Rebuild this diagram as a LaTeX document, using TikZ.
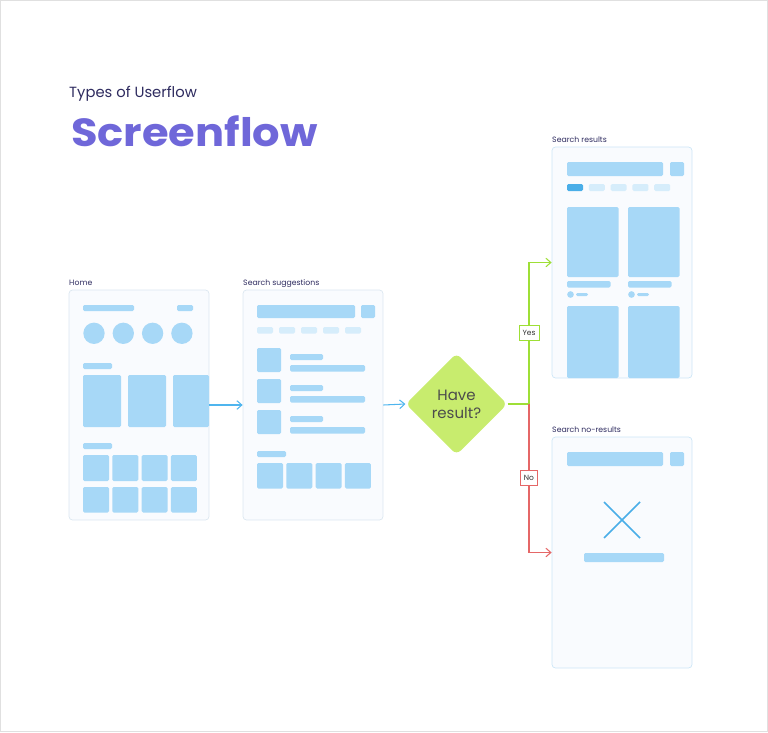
\documentclass[tikz,border=0pt]{standalone}
\usepackage{fontspec}
\setmainfont{Poppins}
\usepackage{tikz}
\usetikzlibrary{shapes.geometric,arrows.meta,positioning}

\definecolor{navy}{HTML}{2E2B5F}
\definecolor{violet}{HTML}{6F67D9}
\definecolor{frameline}{HTML}{DCE7F1}
\definecolor{frameblue}{HTML}{CDE6F7}
\definecolor{framefill}{HTML}{F9FBFE}
\definecolor{skel}{HTML}{A7D8F7}
\definecolor{skellight}{HTML}{D6EDFB}
\definecolor{skeldark}{HTML}{4AAEE8}
\definecolor{flowblue}{HTML}{4FB5EE}
\definecolor{lime}{HTML}{9EDF36}
\definecolor{limefill}{HTML}{C8EC6E}
\definecolor{alert}{HTML}{E56767}

\begin{document}
\begin{tikzpicture}[x=0.03cm,y=-0.03cm]
		\tikzstyle{Screen}	= [rectangle, draw=frameline, fill=framefill, rounded corners=3pt, line width=0.6pt, minimum width=4.2cm, minimum height=6.9cm, inner sep=0pt]
		\tikzstyle{ScreenR}	= [Screen, draw=frameblue, minimum height=6.93cm]
		\tikzstyle{Label}	= [anchor=base west, inner sep=0pt, text=navy, font=\fontsize{6.6}{8}\selectfont]
		\tikzstyle{Bar}		= [fill=skel, rounded corners=1.2pt]
		\tikzstyle{Chip}	= [fill=skellight, rounded corners=1.2pt]
		\tikzstyle{ChipOn}	= [fill=skeldark, rounded corners=1.2pt]
		\tikzstyle{Decision}	= [diamond, fill=limefill, rounded corners=5pt, minimum width=3.05cm, minimum height=3.05cm, inner sep=0pt, align=center, text=black!70, font=\fontsize{12.8}{15.5}\selectfont]
		\tikzstyle{Tag}		= [rectangle, fill=white, draw, line width=0.8pt, inner xsep=3pt, inner ysep=1pt, minimum height=0.44cm, text=black!80, font=\fontsize{6.4}{7}\selectfont]
		\tikzstyle{Flow}	= [line width=0.9pt, -{Straight Barb[length=1.5mm,width=2.6mm]}]
		\tikzstyle{YES}		= [Flow, lime]
		\tikzstyle{NO}		= [Flow, alert]

		\useasboundingbox (0,0) rectangle (768,732);
		\draw [black!12, line width=0.6pt] (0.5,0.5) rectangle (767.5,731.5);

		% titles
		\node (kind) at (69,97.5) [anchor=base west, inner sep=0pt, text=navy, font=\fontsize{12.6}{14}\selectfont] {Types of Userflow};
		\node (title) at (71,146) [anchor=base west, inner sep=0pt, text=violet, font=\fontsize{33.5}{36}\selectfont\bfseries\addfontfeature{FakeStretch=1.1}] {Screenflow};

		% screens
		\node (home) at (139,405) [Screen] {};
		\node (sugg) at (313,405) [Screen] {};
		\node (res) at (622,262.5) [ScreenR] {};
		\node (nores) at (622,552.5) [ScreenR] {};
		\node (dec) at (456.5,404) [Decision] {Have\\result?};

		\node (homeL) at (69,285) [Label] {Home};
		\node (suggL) at (243,285) [Label] {Search suggestions};
		\node (resL) at (552,142) [Label] {Search results};
		\node (noresL) at (552,432) [Label] {Search no-results};

		% home
		\fill [Bar] (83,305) rectangle (134,311);
		\fill [Bar] (177,305) rectangle (193,311);
		\foreach \i in {0,...,3}
			\fill [skel] ({94+29.3*\i},333.3) circle [radius=0.32cm];
		\fill [Bar] (83,363) rectangle (112,369);
		\fill [Bar] (83,375) rectangle (121,427);
		\fill [Bar] (128,375) rectangle (166,427);
		\fill [Bar] (173,375) rectangle (209,427);
		\fill [Bar] (83,443) rectangle (112,449);
		\foreach \i in {0,...,3} {
			\fill [Bar] ({83+29.3*\i},455) rectangle ++(26,26);
			\fill [Bar] ({83+29.3*\i},487) rectangle ++(26,25.5);
		}

		% search suggestions
		\fill [Bar] (257,305) rectangle (355,318);
		\fill [Bar] (361,305) rectangle (375,318);
		\foreach \i in {0,...,4}
			\fill [Chip] ({257+22*\i},327) rectangle ++(16,6.5);
		\foreach \k in {0,1,2} {
			\fill [Bar] (257,{348+31*\k}) rectangle ++(24,24);
			\fill [Bar] (290,{354+31*\k}) rectangle ++(33,6);
			\fill [Bar] (290,{365+31*\k}) rectangle ++(75,6.5);
		}
		\fill [Bar] (257,451) rectangle (286,457);
		\foreach \i in {0,...,3}
			\fill [Bar] ({257+29.3*\i},463) rectangle ++(26,25.5);

		% search results
		\fill [Bar] (567,162) rectangle (663,176);
		\fill [Bar] (670,162) rectangle (684,176);
		\fill [ChipOn] (567,184) rectangle ++(16,7);
		\foreach \i in {1,...,4}
			\fill [Chip] ({567+21.8*\i},184) rectangle ++(16,7);
		\foreach \c in {567,628} {
			\fill [Bar] (\c,207) rectangle ++(51.5,70);
			\fill [Bar] (\c,281) rectangle ++(43.5,6.5);
			\fill [skel] ({\c+3.5},294.5) circle [radius=0.1cm];
			\fill [Bar] ({\c+9},293) rectangle ++(12,3);
			\fill [Bar] (\c,306) rectangle ++(51.5,72);
		}

		% search no-results
		\fill [Bar] (567,452) rectangle (663,466);
		\fill [Bar] (670,452) rectangle (684,466);
		\draw [skeldark, line width=1.3pt] (604,502) -- (640,538) (640,502) -- (604,538);
		\fill [Bar] (584,553) rectangle (664,562);

		% flow
		\coordinate (split) at (529,404);
		\draw [Flow, flowblue] (home.east) -- (sugg.west);
		\draw [Flow, flowblue] (sugg.east) -- (dec.west);
		\draw [line width=0.9pt, lime] (dec.east) -- (split);
		\draw [YES] (split) |- node [Tag, draw=lime, pos=0.25] {Yes} (res.west);
		\draw [NO] (split) |- node [Tag, draw=alert, pos=0.25] {No} (nores.west);
	\end{tikzpicture}
\end{document}
